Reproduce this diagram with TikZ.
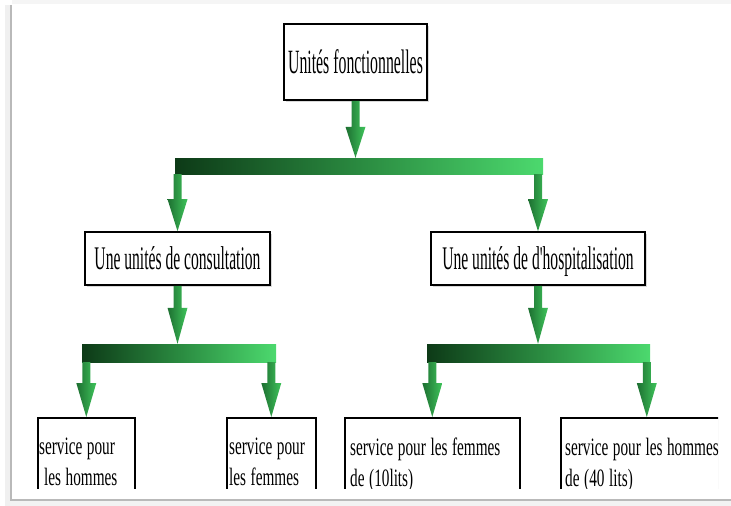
\documentclass[tikz,border=0pt]{standalone}
\usepackage{fontspec}
\setmainfont{Liberation Serif}
\newfontfamily\headfont[FakeStretch=0.465]{Liberation Serif}
\newfontfamily\unitfont[FakeStretch=0.473]{Liberation Serif}
\newfontfamily\servfont[FakeStretch=0.61]{Liberation Serif}
\usetikzlibrary{calc,shadows}

\definecolor{bardark}{HTML}{0D3A17}
\definecolor{barmid}{HTML}{2A8A40}
\definecolor{barlight}{HTML}{4CD96E}
\definecolor{arrowdark}{HTML}{1D6F31}
\definecolor{arrowlight}{HTML}{3FC45B}

% downward green arrow from point #2 to point #3 (tip), head length #1
\newcommand\greenarrow[3][33pt]{%
  \shade[arrowfill] let \p1=(#2), \p2=(#3) in
    (\x1-4pt,\y1) -- (\x1+4pt,\y1) -- (\x1+4pt,\y2+#1) -- (\x1+10pt,\y2+#1)
    -- (\x2,\y2) -- (\x1-10pt,\y2+#1) -- (\x1-4pt,\y2+#1) -- cycle;}

\begin{document}
\begin{tikzpicture}[x=1pt,y=-1pt,
  box/.style={draw=black, line width=1.6pt, fill=white, inner sep=0pt,
    drop shadow={shadow xshift=1.5pt, shadow yshift=-1.5pt, opacity=0.3}},
  headbox/.style={box, font={\headfont\fontsize{34}{40}\selectfont},
    text height=23pt, text depth=0pt},
  unitbox/.style={box, font={\unitfont\fontsize{33}{38}\selectfont},
    text height=22pt, text depth=0pt, minimum height=53pt},
  servbox/.style={box, minimum height=83pt, anchor=north west},
  servtext/.style={font={\servfont\fontsize{25}{31}\selectfont\spaceskip=4.6pt\relax},
    align=left, inner sep=0pt, anchor=north west},
  bar/.style={rectangle, inner sep=0pt, left color=bardark, right color=barlight,
    middle color=barmid},
  arrowfill/.style={left color=arrowdark, right color=arrowlight}]

\useasboundingbox (0,0) rectangle (731,506);

% page frame
\fill[gray!8] (12,0) rectangle (731,4);
\fill[gray!12] (5,5) rectangle (10,506);
\fill[gray!10] (10,501) rectangle (731,506);
\draw[gray!55, line width=1.3pt] (11,5) -- (11,500) -- (731,500);

\begin{scope}
\clip (12,5) rectangle (718,488);

% boxes
\node[headbox, minimum width=143pt, minimum height=76pt] (top) at (355.5,62)
  {Unités fonctionnelles};
\node[unitbox, minimum width=185pt] (consult) at (177.5,258.5)
  {Une unités de consultation};
\node[unitbox, minimum width=214pt] (hospit) at (538,258.5)
  {Une unités de d'hospitalisation};

\node[servbox, minimum width=97pt] (sh) at (37,417) {};
\node[servbox, minimum width=89pt] (sf) at (226,417) {};
\node[servbox, minimum width=175pt] (hf) at (344,417) {};
\node[servbox, minimum width=172pt] (hh) at (560,417) {};

\node[servtext] (sh-t) at ([xshift=2pt, yshift=-21pt]sh.north west)
  {service pour\\\hspace*{5pt}les hommes};
\node[servtext] (sf-t) at ([xshift=3pt, yshift=-21pt]sf.north west)
  {service pour\\les femmes};
\node[servtext] (hf-t) at ([xshift=6pt, yshift=-21pt]hf.north west)
  {service pour les femmes\\de (10lits)};
\node[servtext] (hh-t) at ([xshift=5pt, yshift=-21pt]hh.north west)
  {service pour les hommes\\de (40 lits)};

% distribution bars
\node[bar, minimum width=368pt, minimum height=16pt] (bar1) at (359,166) {};
\node[bar, minimum width=194pt, minimum height=18pt] (bar2) at (179,353) {};
\node[bar, minimum width=223pt, minimum height=18pt] (bar3) at (538.5,353) {};

% connectors
\greenarrow[31pt]{top.south}{top.south |- bar1.north}
\greenarrow[32pt]{bar1.south -| consult.north}{consult.north}
\greenarrow[32pt]{bar1.south -| hospit.north}{hospit.north}

\greenarrow[36pt]{consult.south}{consult.south |- bar2.north}
\greenarrow[36pt]{hospit.south}{hospit.south |- bar3.north}

\greenarrow[34pt]{bar2.south -| sh.north}{sh.north}
\greenarrow[34pt]{bar2.south -| sf.north}{sf.north}
\greenarrow[34pt]{bar3.south -| hf.north}{hf.north}
\greenarrow[34pt]{bar3.south -| hh.north}{hh.north}
\end{scope}

\end{tikzpicture}
\end{document}
